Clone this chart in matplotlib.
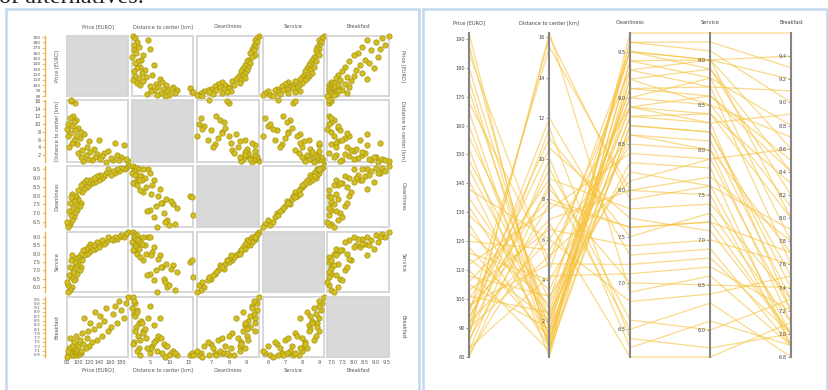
import matplotlib
matplotlib.use('Agg')
import matplotlib.pyplot as plt
from matplotlib.patches import Rectangle
import numpy as np

W, H = 829, 390

names = ['Price [EURO]', 'Distance to center [km]', 'Cleanliness', 'Service', 'Breakfast']

price = [192, 188, 185, 180, 176, 172, 168, 165, 160, 156, 152, 148, 145, 141, 138, 135, 132, 129, 126,
         123, 120, 118, 116, 114, 112, 110, 108, 106, 105, 103, 101, 100, 98, 97, 96, 95, 94, 93, 92, 91,
         90, 89, 88, 87, 86, 85, 83, 82, 81, 80]
distance = [0.4, 1.0, 4.5, 1.5, 0.8, 2.0, 5.0, 0.6, 1.2, 3.0, 0.2, 2.5, 1.8, 0.9, 6.0, 2.2, 1.4, 3.5, 0.7,
            2.8, 5.5, 1.1, 4.0, 2.0, 7.5, 0.5, 3.2, 8.0, 1.6, 6.5, 2.4, 9.0, 4.8, 7.0, 11.0, 15.5, 8.5, 10.5,
            6.0, 12.0, 5.2, 9.5, 16.0, 16.2, 7.8, 11.5, 4.2, 10.0, 6.8, 8.8]
cleanliness = [9.7, 9.6, 9.5, 9.6, 9.4, 9.5, 9.3, 9.4, 9.2, 9.5, 9.3, 9.1, 9.0, 9.2, 8.9, 9.1, 8.8, 9.0, 8.7,
               8.9, 8.6, 8.8, 8.5, 8.9, 8.4, 8.7, 8.2, 7.6, 8.6, 7.4, 8.3, 7.8, 7.2, 8.0, 7.5, 8.0, 7.0, 7.7,
               6.8, 7.3, 8.1, 6.6, 7.9, 6.9, 7.6, 6.4, 7.1, 6.3, 6.2, 6.5]
service = [9.3, 9.2, 9.0, 9.1, 9.0, 8.9, 9.0, 8.8, 8.9, 9.0, 8.7, 8.6, 8.8, 8.5, 8.4, 8.7, 8.3, 8.5, 8.2,
           8.6, 8.1, 8.4, 8.0, 8.3, 7.9, 8.2, 7.6, 7.2, 8.0, 7.0, 7.8, 7.4, 6.8, 7.7, 7.3, 7.5, 6.5, 7.1,
           6.4, 6.9, 7.9, 6.0, 7.6, 6.6, 7.2, 5.8, 6.7, 6.1, 5.7, 6.3]
breakfast = [9.6, 9.3, 8.6, 9.0, 9.4, 8.4, 9.2, 8.8, 8.2, 8.0, 9.1, 8.5, 7.8, 8.7, 8.3, 7.6, 8.9, 8.1, 7.5,
             8.4, 7.3, 8.0, 7.7, 7.2, 8.6, 7.4, 7.9, 7.0, 7.1, 7.6, 6.9, 7.3, 7.0, 7.8, 7.1, 6.9, 7.4, 7.0,
             7.5, 6.9, 7.2, 7.3, 7.0, 6.9, 7.7, 7.0, 7.2, 6.9, 7.1, 6.8]

data = [price, distance, cleanliness, service, breakfast]

# tick sets
y_ticks = [list(range(80, 200, 10)),
           list(range(2, 18, 2)),
           [6.5, 7.0, 7.5, 8.0, 8.5, 9.0, 9.5],
           [6.0, 6.5, 7.0, 7.5, 8.0, 8.5, 9.0],
           [round(6.9 + 0.2 * k, 1) for k in range(14)]]
y_fmt = ['{:.0f}', '{:.0f}', '{:.1f}', '{:.1f}', '{:.1f}']
x_ticks = [[80, 100, 120, 140, 160, 180], [5, 10, 15], [7, 8, 9], [6, 7, 8, 9],
           [7.0, 7.5, 8.0, 8.5, 9.0, 9.5]]
x_fmt = ['{:.0f}', '{:.0f}', '{:.0f}', '{:.0f}', '{:.1f}']
pc_ticks = [list(range(80, 200, 10)),
            list(range(2, 18, 2)),
            [6.5, 7.0, 7.5, 8.0, 8.5, 9.0, 9.5],
            [6.0, 6.5, 7.0, 7.5, 8.0, 8.5, 9.0],
            [round(6.8 + 0.2 * k, 1) for k in range(14)]]

fig = plt.figure(figsize=(W / 100, H / 100), dpi=100)
fig.patch.set_facecolor('white')


def rect(x0, y0, x1, y1):
    return [x0 / W, 1 - y1 / H, (x1 - x0) / W, (y1 - y0) / H]


txt = '#555555'
fs = 3.6

# caption fragment at the top
fig.text(-1 / W, 1 - 3 / H, 'of alternatives.', family='Liberation Serif', fontsize=17.5,
         va='baseline', ha='left', color='#222222')

# panel frames
for (x0, x1) in [(6, 419), (423, 827)]:
    fig.patches.append(Rectangle((x0 / W, -0.05), (x1 - x0) / W, 1 - 9 / H + 0.05,
                                 transform=fig.transFigure, fill=False,
                                 edgecolor='#c3d7ee', lw=1.8, zorder=0))

# ---------------- scatter plot matrix ----------------
cols = [(67, 128), (132, 193), (197, 259), (263, 324), (327, 389)]
rows = [(36, 96), (100, 162), (166, 227), (232, 292), (297, 357)]
dom = [(min(v), max(v)) for v in data]

for i, (ry0, ry1) in enumerate(rows):
    for j, (cx0, cx1) in enumerate(cols):
        ax = fig.add_axes(rect(cx0, ry0, cx1, ry1))
        ax.set_xlim(*dom[j])
        ax.set_ylim(*dom[i])
        for s in ax.spines.values():
            s.set_color('#d4d4d4')
            s.set_linewidth(1.3)
        ax.set_yticks([])
        if i == j:
            ax.set_facecolor('#d9d9d9')
        else:
            ax.scatter(data[j], data[i], s=15, facecolor='#d2be22', edgecolor='#a8960c',
                       linewidth=0.5, clip_on=False, zorder=3)
        if i == len(rows) - 1:
            ax.set_xticks(x_ticks[j])
            ax.set_xticklabels([x_fmt[j].format(t) for t in x_ticks[j]])
            ax.tick_params(axis='x', length=0, pad=2, labelsize=fs, labelcolor=txt)
        else:
            ax.set_xticks([])
    # left y axis (orange)
    ay = fig.add_axes(rect(45, ry0, 46, ry1))
    ay.set_facecolor('none')
    ay.set_ylim(*dom[i])
    ay.set_xticks([])
    for k in ['top', 'right', 'bottom']:
        ay.spines[k].set_visible(False)
    ay.spines['left'].set_color('#f0b040')
    ay.spines['left'].set_linewidth(1.0)
    ay.set_yticks(y_ticks[i])
    ay.set_yticklabels([y_fmt[i].format(t) for t in y_ticks[i]])
    ay.tick_params(axis='y', length=2, width=0.6, color='#f0b040', pad=1,
                   labelsize=3.1 if i in (0, 4) else fs, labelcolor=txt)
    yc = 1 - (ry0 + ry1) / 2 / H
    fig.text(57 / W, yc, names[i], rotation=90, ha='center', va='center', fontsize=fs, color=txt)
    fig.text(403 / W, yc, names[i], rotation=270, ha='center', va='center', fontsize=fs, color=txt)

for j, (cx0, cx1) in enumerate(cols):
    xc = (cx0 + cx1) / 2 / W
    fig.text(xc, 1 - 27 / H, names[j], ha='center', va='center', fontsize=fs, color=txt)
    fig.text(xc, 1 - 370 / H, names[j], ha='center', va='center', fontsize=fs, color=txt)

# ---------------- parallel coordinates ----------------
axis_x = [469, 549, 630, 710, 791]
top, bot = 33, 357
axp = fig.add_axes(rect(axis_x[0], top, axis_x[-1], bot))
axp.set_xlim(0, 4)
axp.set_ylim(0, 1)
axp.axis('off')
norm = [[(v - lo) / (hi - lo) for v in vals] for vals, (lo, hi) in zip(data, dom)]
n = len(price)
for r in range(n):
    axp.plot(range(5), [norm[k][r] for k in range(5)], color='#f7c23a', alpha=0.6, lw=0.9,
             solid_capstyle='butt', clip_on=False)

for k, x in enumerate(axis_x):
    aa = fig.add_axes(rect(x, top, x + 1, bot))
    aa.set_facecolor('none')
    aa.set_ylim(*dom[k])
    aa.set_xticks([])
    for s in ['top', 'right', 'bottom']:
        aa.spines[s].set_visible(False)
    aa.spines['left'].set_color('#858585')
    aa.spines['left'].set_linewidth(1.5)
    aa.set_yticks(pc_ticks[k])
    aa.set_yticklabels([y_fmt[k].format(t) if k < 2 else '{:.1f}'.format(t) for t in pc_ticks[k]])
    aa.tick_params(axis='y', length=2, width=0.6, color='#858585', pad=1,
                   labelsize=fs, labelcolor='#444444')
    fig.text(x / W, 1 - 23 / H, names[k], ha='center', va='center', fontsize=fs, color='#444444')

fig.savefig('out.png', dpi=100, facecolor='white')
